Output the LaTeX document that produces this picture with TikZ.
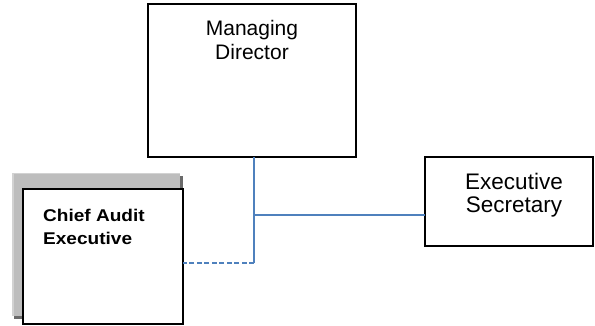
\documentclass[tikz,border=0pt]{standalone}
\usepackage{fontspec}
\setmainfont{Liberation Sans}
\newfontfamily\boldwide[FakeStretch=1.12]{Liberation Sans Bold}
\definecolor{linkblue}{HTML}{4F81BD}
\definecolor{shadowgray}{HTML}{BDBDBD}
\definecolor{shadowlight}{HTML}{D2D2D2}
\definecolor{shadowdark}{HTML}{6A6A6A}
\begin{document}
\begin{tikzpicture}[x=1pt,y=-1pt,
  box/.style={draw=black,line width=1.6pt,fill=white,inner sep=0pt,outer sep=0pt},
  label/.style={inner sep=0pt,anchor=base,align=center},
  conn/.style={draw=linkblue,line width=1.4pt},
  dotted link/.style={conn,dash pattern=on 5pt off 2.5pt}]
\useasboundingbox (0,0) rectangle (595,326);
% raised shadow behind the audit box
\fill[shadowdark] (14,176) rectangle (183,319);
\fill[shadowgray] (12,173) rectangle (180,316);
\draw[shadowlight,line width=1.5pt] (12.75,316) -- (12.75,173.75) -- (180,173.75);
% boxes
\node[box,minimum width=208pt,minimum height=153pt] (md) at (252,80.5) {};
\node[box,minimum width=168pt,minimum height=89pt] (es) at (509,201.5) {};
\node[box,minimum width=160pt,minimum height=135pt] (cae) at (103,256.5) {};
% texts
\node[label,font=\fontsize{21}{24}\selectfont] (mdt) at (252,36) {Managing};
\node[label,font=\fontsize{21}{24}\selectfont] (mdt2) at (252,60) {Director};
\node[label,font=\fontsize{22.5}{24}\selectfont] (est) at (514,190) {Executive};
\node[label,font=\fontsize{22.5}{24}\selectfont] (est2) at (514,213) {Secretary};
\node[label,anchor=base west,font=\boldwide\fontsize{17}{20}\selectfont] (caet) at (43,222) {Chief Audit};
\node[label,anchor=base west,font=\boldwide\fontsize{17}{20}\selectfont] (caet2) at (43,244) {Executive};
% reporting lines
\coordinate (tee) at (254,215);
\coordinate (corner) at (254,263);
\draw[conn] (md.south -| tee) -- (corner);
\draw[conn] (tee) -- (tee -| es.west);
\draw[dotted link] (corner) -- (corner -| cae.east);
\end{tikzpicture}
\end{document}
